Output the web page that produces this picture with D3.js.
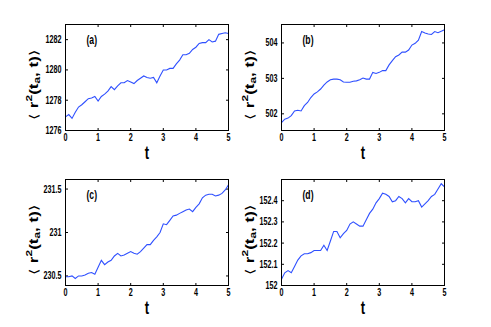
<!DOCTYPE html>
<html>
<head>
<meta charset="utf-8">
<script src="https://cdn.jsdelivr.net/npm/d3@7"></script>
<style>
  body { margin: 0; background: #fff; }
  svg text { font-family: "Liberation Sans Narrow", "Liberation Sans", Arial, sans-serif; }
</style>
</head>
<body>
<div id="chart"></div>
<script>
// time samples (t = 0 .. 5, step 0.1)
const tValues = d3.range(51).map(i => i / 10);

// values
const seriesA = [1276.9, 1277.05, 1276.8, 1277.2, 1277.55, 1277.7, 1277.9, 1278.1, 1278.15, 1278.25,
  1277.95, 1278.25, 1278.4, 1278.6, 1278.9, 1278.7, 1278.95, 1279.15, 1279.15, 1279.3,
  1279.2, 1279.1, 1279.3, 1279.45, 1279.6, 1279.5, 1279.45, 1279.5, 1279.15, 1279.6,
  1280.0, 1280.0, 1280.1, 1280.1, 1280.4, 1280.65, 1281.0, 1281.0, 1281.1, 1281.35,
  1281.5, 1281.75, 1281.8, 1281.8, 1282.0, 1281.85, 1281.9, 1282.35, 1282.4, 1282.45, 1282.4];
const seriesB = [501.75, 501.85, 501.88, 501.95, 502.08, 502.1, 502.08, 502.23, 502.32, 502.46,
  502.56, 502.62, 502.7, 502.81, 502.9, 502.96, 502.98, 502.98, 502.96, 502.9,
  502.89, 502.89, 502.92, 502.93, 502.96, 503.01, 502.98, 502.98, 503.17, 503.14,
  503.17, 503.22, 503.22, 503.38, 503.5, 503.61, 503.66, 503.74, 503.74, 503.8,
  503.94, 503.99, 504.08, 504.32, 504.28, 504.25, 504.24, 504.32, 504.29, 504.33, 504.37];
const seriesC = [230.49, 230.49, 230.5, 230.47, 230.5, 230.5, 230.51, 230.53, 230.54, 230.52,
  230.6, 230.68, 230.63, 230.66, 230.68, 230.73, 230.76, 230.73, 230.74, 230.76,
  230.78, 230.76, 230.75, 230.78, 230.82, 230.86, 230.86, 230.91, 230.95, 231.0,
  231.1, 231.09, 231.14, 231.19, 231.2, 231.22, 231.24, 231.26, 231.27, 231.24,
  231.29, 231.33, 231.4, 231.43, 231.44, 231.44, 231.42, 231.43, 231.45, 231.49, 231.55];
const seriesD = [152.03, 152.06, 152.07, 152.06, 152.09, 152.12, 152.14, 152.15, 152.15, 152.155,
  152.165, 152.165, 152.165, 152.19, 152.165, 152.21, 152.255, 152.255, 152.225, 152.245,
  152.26, 152.29, 152.3, 152.29, 152.28, 152.28, 152.31, 152.34, 152.36, 152.39,
  152.41, 152.435, 152.43, 152.42, 152.395, 152.4, 152.42, 152.41, 152.39, 152.41,
  152.395, 152.395, 152.4, 152.37, 152.385, 152.4, 152.42, 152.43, 152.455, 152.48, 152.465];

const xTicks = [0, 1, 2, 3, 4, 5];
const yTicksA = [1276, 1278, 1280, 1282];
const yTicksB = [502, 503, 504];
const yTicksC = [230.5, 231, 231.5];
const yTicksD = [152, 152.1, 152.2, 152.3, 152.4];
const panelLabels = ["(a)", "(b)", "(c)", "(d)"];

const width = 491, height = 327;
const svg = d3.select("#chart").append("svg")
  .attr("width", width)
  .attr("height", height);

const panels = [
  { data: seriesA, ticks: yTicksA, domain: [1276, 1283], left: 65.5, top: 24.5, label: panelLabels[0] },
  { data: seriesB, ticks: yTicksB, domain: [501.53, 504.52], left: 281.5, top: 24.5, label: panelLabels[1] },
  { data: seriesC, ticks: yTicksC, domain: [230.39, 231.61], left: 65.5, top: 179.5, label: panelLabels[2] },
  { data: seriesD, ticks: yTicksD, domain: [152, 152.5], left: 281.5, top: 179.5, label: panelLabels[3] }
];
const pw = 163, ph = 106;
const sx = 0.72; // labels are horizontally condensed in the picture

panels.forEach(p => {
  const g = svg.append("g").attr("transform", `translate(${p.left},${p.top})`);
  const x = d3.scaleLinear().domain([0, 5]).range([0, pw]);
  const y = d3.scaleLinear().domain(p.domain).range([ph, 0]);

  // inward ticks on all four sides
  const tl = 2.5;
  g.selectAll(".xt").data(xTicks).join("line")
    .attr("x1", d => x(d)).attr("x2", d => x(d))
    .attr("y1", ph).attr("y2", ph - tl).attr("stroke", "#000");
  g.selectAll(".xtt").data(xTicks).join("line")
    .attr("x1", d => x(d)).attr("x2", d => x(d))
    .attr("y1", 0).attr("y2", tl).attr("stroke", "#000");
  g.selectAll(".yt").data(p.ticks).join("line")
    .attr("x1", 0).attr("x2", tl)
    .attr("y1", d => y(d)).attr("y2", d => y(d)).attr("stroke", "#000");
  g.selectAll(".ytr").data(p.ticks).join("line")
    .attr("x1", pw).attr("x2", pw - tl)
    .attr("y1", d => y(d)).attr("y2", d => y(d)).attr("stroke", "#000");

  // data line
  g.append("path")
    .datum(p.data)
    .attr("fill", "none")
    .attr("stroke", "#2f50ff")
    .attr("stroke-width", 1.1)
    .attr("d", d3.line().x((d, i) => x(tValues[i])).y(d => y(d)));

  // box
  g.append("rect").attr("width", pw).attr("height", ph)
    .attr("fill", "none").attr("stroke", "#000").attr("stroke-width", 1);

  // tick labels
  g.selectAll(".xl").data(xTicks).join("text")
    .attr("transform", d => `translate(${x(d)},${ph + 10}) scale(${sx},1)`)
    .attr("text-anchor", "middle")
    .attr("font-size", 10).attr("font-weight", "bold")
    .text(d => d);
  g.selectAll(".yl").data(p.ticks).join("text")
    .attr("transform", d => `translate(-4,${y(d) + 3.5}) scale(${sx},1)`)
    .attr("text-anchor", "end")
    .attr("font-size", 10).attr("font-weight", "bold")
    .text(d => d);

  // panel label
  g.append("text")
    .attr("transform", `translate(21,19) scale(${sx},1)`)
    .attr("font-size", 12).attr("font-weight", "bold")
    .text(p.label);

  // x axis label
  g.append("text")
    .attr("transform", `translate(${pw / 2},${ph + 28}) scale(${sx},1)`)
    .attr("text-anchor", "middle")
    .attr("font-size", 18).attr("font-weight", "bold")
    .text("t");

  // y axis label
  const yl = g.append("text")
    .attr("transform", `translate(-28,${ph / 2 + 7}) rotate(-90) scale(1,${sx})`)
    .attr("text-anchor", "middle")
    .attr("font-size", 17).attr("font-weight", "bold");
  yl.append("tspan").attr("font-weight", "normal").text("\u27E8 ");
  yl.append("tspan").text("r");
  yl.append("tspan").attr("dy", -7).attr("font-size", 12).text("2");
  yl.append("tspan").attr("dy", 7).text("(t");
  yl.append("tspan").attr("dy", 4).attr("font-size", 12).text("a");
  yl.append("tspan").attr("dy", -4).text(",  t)");
  yl.append("tspan").attr("font-weight", "normal").text("\u27E9");
});
</script>
</body>
</html>
